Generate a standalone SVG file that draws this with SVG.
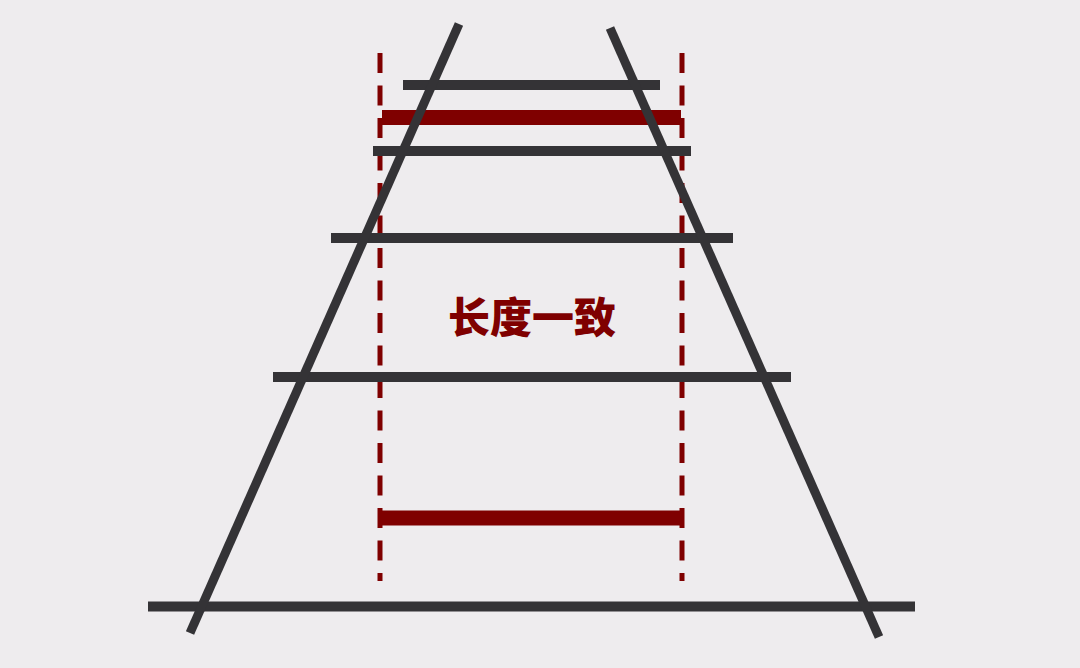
<svg xmlns="http://www.w3.org/2000/svg" width="1080" height="668" viewBox="0 0 1080 668">
<style>
.g{stroke:#343336;stroke-width:10;fill:none}
.d{stroke:#343336;stroke-width:9;fill:none}
.r{stroke:#7f0000;stroke-width:15;fill:none}
.dash{stroke:#7f0000;stroke-width:5;stroke-dasharray:20 12.5;fill:none}
.t{font-family:"Noto Sans CJK SC","Noto Sans CJK JP",sans-serif;font-weight:900;font-size:42px;fill:#7f0000}
</style>
<rect width="1080" height="668" fill="#eeecee"/>
<g id="guides">
<line class="dash" x1="380" y1="53" x2="380" y2="581"/>
<line class="dash" x1="682" y1="53" x2="682" y2="581"/>
</g>
<g id="ties">
<line class="g" x1="403" y1="85" x2="660" y2="85"/>
<line class="g" x1="373" y1="151" x2="691" y2="151"/>
<line class="g" x1="331" y1="238" x2="733" y2="238"/>
<line class="g" x1="273" y1="377" x2="791" y2="377"/>
<line class="g" x1="148" y1="606.5" x2="915" y2="606.5"/>
</g>
<g id="red-bars">
<line class="r" x1="382" y1="117.5" x2="681" y2="117.5"/>
<line class="r" x1="381" y1="518" x2="681" y2="518"/>
</g>
<g id="rails">
<line class="d" x1="459" y1="24" x2="190" y2="633"/>
<line class="d" x1="610" y1="28" x2="879" y2="637"/>
</g>
<g id="label">
<text class="t" x="532" y="333" text-anchor="middle">长度一致</text>
</g>
</svg>
